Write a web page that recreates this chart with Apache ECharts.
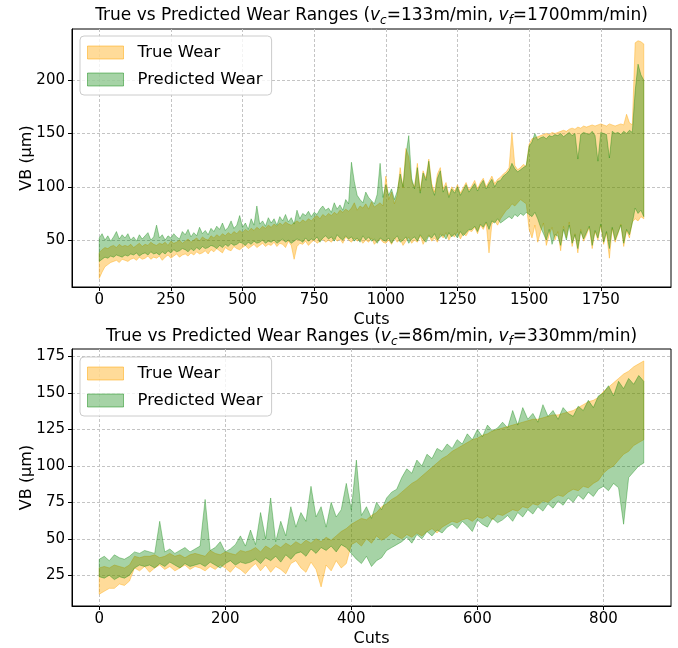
<!DOCTYPE html>
<html>
<head>
<meta charset="utf-8">
<script src="https://cdn.jsdelivr.net/npm/echarts@6/dist/echarts.min.js"></script>
<style>
html, body { margin: 0; padding: 0; background: #fff; }
#main { width: 678px; height: 648px; }
</style>
</head>
<body>
<div id="main"></div>
<script>
// top panel: vc=133m/min, vf=1700mm/min, one value every 10 cuts (0..1900)
var step1 = 10;
var trueLo1 = [
    14,20,25,27,29,30,31,29,32,31, 30,32,33,31,34,32,33,35,32,34,
    33,35,31,34,36,33,35,37,34,36, 37,35,38,36,39,37,38,40,37,41,
    39,42,40,38,43,41,40,44,42,41, 43,45,42,44,46,43,45,47,44,46,
    45,48,44,47,46,43,49,45,32,44, 47,46,49,45,48,50,47,49,51,48,
    50,48,52,49,51,47,53,50,48,52, 49,51,47,50,48,52,46,49,51,48,
    47,50,46,52,48,51,45,49,53,47, 50,48,54,46,51,55,49,52,48,56,
    52,57,50,55,53,58,51,56,54,59, 58,62,56,64,60,66,38,65,68,64,
    70,74,78,80,84,82,85,88,86,84, 60,52,64,48,58,66,45,55,62,50,
    58,40,63,52,67,44,56,38,60,49, 55,62,42,58,50,64,46,57,33,61,
    48,56,65,44,59,52,67,70,68,72, 70
];
var trueHi1 = [
    38,41,43,42,44,45,43,46,44,45, 44,46,43,45,47,44,46,45,48,46,
    45,47,46,48,45,49,47,48,50,47, 49,51,48,50,52,49,53,51,50,54,
    52,55,53,56,54,57,55,58,56,59, 57,60,58,61,59,62,60,63,61,64,
    62,65,63,66,64,67,65,64,66,68, 66,69,67,70,68,71,73,70,74,72,
    75,73,76,74,78,76,79,77,80,85, 78,82,80,84,79,86,81,83,85,82,
    110,88,95,84,92,118,99,136,128,105, 100,122,96,115,108,126,103,95,112,118,
    98,104,92,100,96,102,94,99,104,97, 101,106,98,104,108,100,105,110,103,107,
    109,112,114,118,151,120,116,118,121,119, 140,145,146,147,148,149,150,149,151,150,
    151,152,153,152,154,155,154,156,155,157, 156,157,158,157,158,159,158,157,159,158,
    157,158,159,158,168,160,158,235,237,236, 234
];
var predLo1 = [
    30,32,34,33,35,34,36,35,34,36, 35,37,36,38,35,37,38,36,39,37,
    38,36,39,37,40,38,41,39,40,42, 41,39,42,40,43,41,44,42,43,45,
    44,42,45,43,46,44,47,45,46,48, 47,45,48,46,49,47,48,50,47,49,
    48,50,47,49,51,48,50,47,49,51, 50,48,52,49,51,50,53,48,52,54,
    51,53,49,55,52,50,54,51,53,49, 52,48,54,50,53,49,51,47,52,50,
    49,52,47,51,54,48,50,53,47,51, 53,49,55,51,48,54,52,56,50,53,
    55,51,57,53,56,52,58,54,57,60, 60,63,58,65,62,67,60,68,66,70,
    66,68,70,72,70,74,72,75,73,76, 74,72,76,70,62,56,50,60,46,55,
    54,45,60,50,64,47,55,42,58,51, 57,63,45,59,52,65,48,58,42,62,
    50,57,64,47,60,55,66,80,75,78, 72
];
var predHi1 = [
    52,56,50,54,49,53,58,51,55,52, 56,50,53,49,55,51,54,57,50,53,
    64,52,55,50,54,52,56,53,51,58, 55,60,53,57,54,62,56,59,55,61,
    58,63,60,66,59,62,68,61,64,73, 62,66,60,70,64,82,65,68,63,71,
    66,70,64,72,68,74,67,71,65,78, 70,75,73,77,72,76,74,79,82,78,
    80,76,85,79,83,78,88,84,123,105, 92,88,85,95,90,87,84,93,122,90,
    102,92,98,88,96,112,100,130,148,108, 98,118,94,113,106,124,100,92,108,115,
    95,101,90,98,94,100,92,97,102,95, 99,103,96,102,106,98,103,107,100,105,
    106,110,112,115,122,117,114,116,118,120, 138,142,150,144,146,147,145,148,147,149,
    148,150,147,149,151,148,150,126,149,151, 150,149,152,148,124,151,150,149,127,152,
    150,151,149,152,150,153,151,190,215,205, 200
];
var xTicks1 = [0, 250, 500, 750, 1000, 1250, 1500, 1750];
var yTicks1 = [50, 100, 150, 200];

// bottom panel: vc=86m/min, vf=330mm/min, one value every 8 cuts (0..864)
var step2 = 8;
var trueLo2 = [
    12,14,16,16,19,18,21,30,28,31, 27,30,32,29,31,28,30,32,29,31,
    30,28,31,29,32,30,27,31,29,26, 30,33,28,32,27,31,29,26,33,35,
    30,27,34,29,17,32,28,35,30,33, 46,48,45,50,47,52,49,51,54,52,
    50,53,51,54,52,55,57,54,58,60, 62,61,63,64,62,65,64,66,63,67,
    66,68,70,69,72,71,74,73,76,75, 78,80,79,82,84,83,86,85,88,90,
    95,98,100,104,108,110,114,116,118
];
var trueHi2 = [
    30,31,30,32,31,30,32,38,37,38, 38,39,37,38,40,38,39,37,39,40,
    39,38,42,40,39,41,40,39,42,41, 42,44,41,45,43,46,44,47,45,48,
    46,49,47,50,48,51,49,52,55,57, 60,62,64,63,66,68,72,74,77,79,
    82,85,88,90,93,96,99,102,105,107, 110,112,114,116,118,119,121,122,124,125,
    126,127,128,129,130,131,132,132,133,134, 135,135,136,137,138,140,142,144,145,147,
    151,154,157,160,163,165,168,170,172
];
var predLo2 = [
    24,23,25,22,24,23,25,30,32,31, 32,30,33,31,34,32,30,33,31,32,
    33,31,34,32,30,33,35,32,34,33, 34,36,33,37,35,38,34,39,36,40,
    41,38,43,40,44,42,45,41,46,44, 40,36,33,38,31,35,37,42,44,46,
    48,51,47,53,50,55,52,56,54,58, 60,57,62,59,55,63,60,58,64,61,
    63,66,62,68,65,70,67,72,69,74, 71,76,73,78,75,80,77,82,79,84,
    86,83,88,85,60,92,96,100,102
];
var predHi2 = [
    36,38,35,39,37,36,38,41,40,42, 41,40,62,41,43,40,42,44,41,43,
    45,77,42,44,48,41,43,46,52,45, 56,46,68,50,78,48,62,52,72,58,
    68,62,86,65,72,58,75,65,70,88, 70,104,66,72,64,75,70,78,82,84,
    92,98,95,104,100,108,105,112,110,115, 112,118,115,122,118,125,120,128,124,126,
    130,126,138,128,140,132,136,130,142,134, 138,132,140,136,134,141,138,145,140,148,
    150,155,148,158,153,160,156,162,158
];
var xTicks2 = [0, 200, 400, 600, 800];
var yTicks2 = [25, 50, 75, 100, 125, 150, 175];

var FONT = 'DejaVu Sans';

// rows of [cut, low, high]
function rows(step, lo, hi) {
    return lo.map(function (v, i) { return [i * step, v, hi[i]]; });
}

// one polygon per band, like fill_between
function band(idx, step, lo, hi, name, fill, edge) {
    var data = rows(step, lo, hi);
    return {
        name: name, type: 'custom', xAxisIndex: idx, yAxisIndex: idx,
        data: data, encode: { x: 0, y: [1, 2] }, silent: true, clip: true,
        renderItem: function (params, api) {
            if (params.dataIndex !== 0) return null;
            var top = [], bottom = [];
            for (var i = 0; i < data.length; i++) {
                top.push(api.coord([data[i][0], data[i][2]]));
                bottom.push(api.coord([data[i][0], data[i][1]]));
            }
            return {
                type: 'polygon',
                shape: { points: top.concat(bottom.reverse()) },
                style: { fill: fill, stroke: edge, lineWidth: 1 }
            };
        }
    };
}

function xAxis(idx, min, max, ticks) {
    return {
        gridIndex: idx, type: 'value', min: min, max: max,
        name: 'Cuts', nameLocation: 'middle', nameGap: 25, nameMoveOverlap: false,
        nameTextStyle: { fontFamily: FONT, fontSize: 16, color: '#000' },
        axisLine: { show: true, onZero: false, lineStyle: { color: '#000', width: 1 } },
        axisTick: { show: true, length: 4, customValues: ticks, lineStyle: { color: '#000' } },
        axisLabel: {
            customValues: ticks, fontFamily: FONT, fontSize: 15, color: '#000', margin: 6,
            formatter: function (v) { return String(v); }
        },
        splitLine: { show: true, lineStyle: { color: '#c4c4c4', type: [3, 2], width: 1 } }
    };
}
function yAxis(idx, min, max, ticks) {
    return {
        gridIndex: idx, type: 'value', min: min, max: max,
        name: 'VB (μm)', nameLocation: 'middle', nameGap: 37, nameMoveOverlap: false,
        nameTextStyle: { fontFamily: FONT, fontSize: 16, color: '#000' },
        axisLine: { show: true, onZero: false, lineStyle: { color: '#000', width: 1 } },
        axisTick: { show: true, length: 4, customValues: ticks, lineStyle: { color: '#000' } },
        axisLabel: {
            customValues: ticks, fontFamily: FONT, fontSize: 15, color: '#000', margin: 7,
            formatter: function (v) { return String(v); }
        },
        splitLine: { show: true, lineStyle: { color: '#c4c4c4', type: [3, 2], width: 1 } }
    };
}
function legend(top) {
    return {
        orient: 'vertical', left: 80, top: top, icon: 'rect',
        itemWidth: 36, itemHeight: 13, itemGap: 10, selectedMode: false,
        padding: [8, 9, 7, 7], backgroundColor: 'rgba(255,255,255,0.8)',
        borderColor: '#cccccc', borderWidth: 1, borderRadius: 4,
        textStyle: { fontFamily: FONT, fontSize: 16.5, color: '#000', padding: [0, 0, 0, 9] },
        data: [
            { name: 'True Wear', itemStyle: { color: 'rgba(255,165,0,0.4)', borderColor: 'rgba(255,165,0,0.5)', borderWidth: 1 } },
            { name: 'Predicted Wear', itemStyle: { color: 'rgba(0,128,0,0.35)', borderColor: 'rgba(0,128,0,0.45)', borderWidth: 1 } }
        ]
    };
}
function title(y, vc, vf) {
    return {
        type: 'text', x: 371.5, y: y,
        style: {
            text: '{n|True vs Predicted Wear Ranges (}{i|v}{s|c}{n|=' + vc + 'm/min, }{i|v}{s|f}{n|=' + vf + 'mm/min)}',
            align: 'center', verticalAlign: 'top',
            rich: {
                n: { fontFamily: FONT, fontSize: 17, color: '#000', lineHeight: 22 },
                i: { fontFamily: FONT, fontSize: 17, fontStyle: 'italic', color: '#000', lineHeight: 22 },
                s: { fontFamily: FONT, fontSize: 12, fontStyle: 'italic', color: '#000', lineHeight: 12, verticalAlign: 'bottom' }
            }
        }
    };
}

var myChart = echarts.init(document.getElementById('main'));

var option = {
    animation: false,
    backgroundColor: '#fff',
    graphic: [title(5, 133, 1700), title(326, 86, 330)],
    legend: [legend(36), legend(357)],
    grid: [
        { left: 72, top: 29, width: 599, height: 258, show: true, borderColor: '#000', borderWidth: 1, backgroundColor: 'transparent' },
        { left: 72, top: 349, width: 599, height: 259, show: true, borderColor: '#000', borderWidth: 1, backgroundColor: 'transparent' }
    ],
    xAxis: [xAxis(0, -95, 1995, xTicks1), xAxis(1, -43.2, 907.2, xTicks2)],
    yAxis: [yAxis(0, 6, 248, yTicks1), yAxis(1, 3.9, 180.2, yTicks2)],
    series: [
        band(0, step1, trueLo1, trueHi1, 'True Wear', 'rgba(255,165,0,0.4)', 'rgba(255,165,0,0.4)'),
        band(0, step1, predLo1, predHi1, 'Predicted Wear', 'rgba(0,128,0,0.35)', 'rgba(0,128,0,0.35)'),
        band(1, step2, trueLo2, trueHi2, 'True Wear', 'rgba(255,165,0,0.4)', 'rgba(255,165,0,0.4)'),
        band(1, step2, predLo2, predHi2, 'Predicted Wear', 'rgba(0,128,0,0.35)', 'rgba(0,128,0,0.35)')
    ]
};

myChart.setOption(option);
</script>
</body>
</html>
